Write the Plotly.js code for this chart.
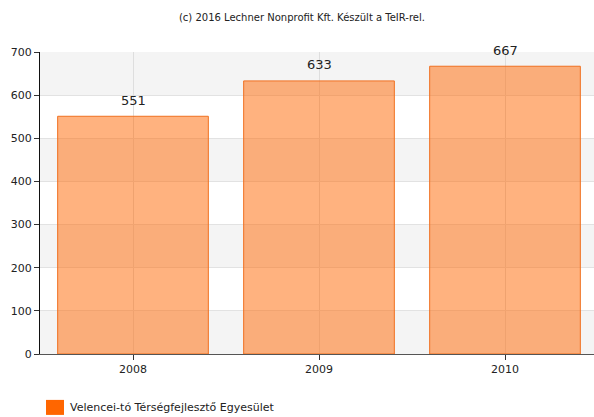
<!DOCTYPE html>
<html><head><meta charset="utf-8">
<script src="https://cdn.plot.ly/plotly-3.0.1.min.js"></script>
<style>html,body{margin:0;padding:0;background:#fff;overflow:hidden}#chart{width:598px;height:417px}</style>
</head><body><div id="chart"></div>
<script>
const categories = ['2008', '2009', '2010'];
const values = [551, 633, 667];
const seriesName = 'Velencei-tó Térségfejlesztő Egyesület';
const yTicks = [0, 100, 200, 300, 400, 500, 600, 700];
const chartTitle = '(c) 2016 Lechner Nonprofit Kft. Készült a TeIR-rel.';

const font = 'DejaVu Sans, Verdana, sans-serif';

const shapes = [];
for (let i = 0; i < yTicks.length - 1; i++) {
  if (i % 2 === 0) {
    shapes.push({type:'rect', xref:'paper', yref:'y', x0:0, x1:1, y0:yTicks[i], y1:yTicks[i+1],
      fillcolor:'#f4f4f4', line:{width:0}, layer:'below'});
  }
}
// legend swatch (paper coords: plot spans 40..598 px)
shapes.push({type:'rect', xref:'paper', yref:'paper', x0:0.0108, x1:0.0430, y0:-0.152, y1:-0.2017,
  fillcolor:'#ff6600', line:{width:0}});

const annotations = categories.map((c, i) => ({
  x: i, y: values[i], xref:'x', yref:'y', text: String(values[i]), showarrow:false,
  yshift: 16, font:{family:font, size:13, color:'#222'}
}));
annotations.push({xref:'paper', yref:'paper', x:0.0500, y:-0.1785, xanchor:'left', yanchor:'middle',
  text: seriesName, showarrow:false, font:{family:font, size:11, color:'#222'}});

const data = [{
  type:'bar', x: categories, y: values, name: seriesName,
  marker:{color:'rgba(255,102,0,0.5)', line:{color:'#f07020', width:1}},
  hoverinfo:'none', showlegend:false
}];

const layout = {
  width:598, height:417,
  margin:{l:40, r:0, t:52, b:63, pad:0},
  paper_bgcolor:'#fff', plot_bgcolor:'#fff',
  title:{text: chartTitle, x:0.505, xanchor:'center', y:0.957, yanchor:'middle',
    font:{family:font, size:10, color:'#222'}},
  bargap:0.19,
  showlegend:false,
  xaxis:{type:'category', range:[-0.5, categories.length - 0.5], showgrid:true, gridcolor:'#dedede', gridwidth:1,
    showline:true, linecolor:'#555', linewidth:1, ticks:'outside', ticklen:5, tickcolor:'#333',
    tickfont:{family:font, size:11, color:'#222'}, zeroline:false, fixedrange:true},
  yaxis:{range:[0,700], tickvals:yTicks, ticktext:yTicks.map(String), showgrid:true, gridcolor:'#e2e2e2',
    showline:true, linecolor:'#111', linewidth:1, ticks:'outside', ticklen:5, tickcolor:'#333',
    tickfont:{family:font, size:11, color:'#222'}, zeroline:false, fixedrange:true},
  shapes: shapes,
  annotations: annotations
};

Plotly.newPlot('chart', data, layout, {displayModeBar:false, staticPlot:true});
</script></body></html>
